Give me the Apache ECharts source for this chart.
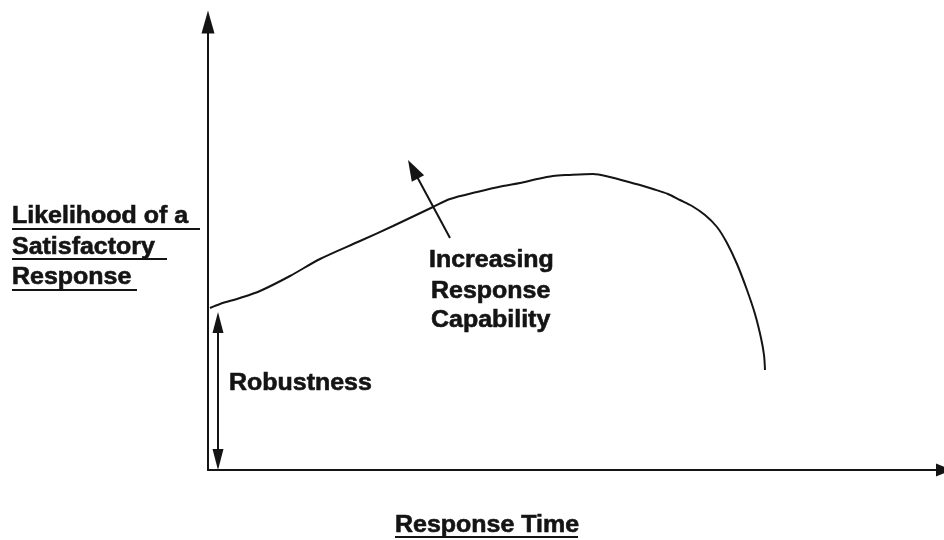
<!DOCTYPE html>
<html>
<head>
<meta charset="utf-8">
<script src="https://cdn.jsdelivr.net/npm/echarts@6/dist/echarts.min.js"></script>
<style>html,body{margin:0;padding:0;background:#fff;}#c{width:944px;height:540px;}</style>
</head>
<body>
<div id="c"></div>
<script>
// Curve: response time (x) vs likelihood of satisfactory response (y), arbitrary units
const curveX = [2, 12, 32, 52, 82, 112, 152, 185, 225, 242, 269, 295, 312, 329, 345, 360, 385, 402, 417, 432, 445, 460, 472, 484, 497, 509, 519, 529, 539, 547, 553, 556, 557];
const curveY = [162, 166, 172, 179, 194, 211, 229, 244, 263, 271, 278, 284, 287, 291, 294, 295, 296, 293, 289, 285, 281, 276, 270, 264, 255, 243, 227, 206, 180, 156, 132, 115, 100];
const xRange = [0, 736];
const yRange = [0, 448];
// Annotation arrows (data units)
const robustArrow = [[10, 147.5], [10, 10.5]];
const capArrow = [[242, 232], [205, 300.8]];
const yLabelLines = ['Likelihood of a', 'Satisfactory', 'Response'];
const xLabel = 'Response Time';
const capLabelLines = ['Increasing', 'Response', 'Capability'];
const robustLabel = 'Robustness';

const ink = '#141414';
const curveData = curveX.map((x, i) => [x, curveY[i]]);
const font = 'Liberation Sans, Arial, Helvetica, sans-serif';

function txt(text, x, y) {
  return { type: 'text', x: x, y: y, scaleX: 1.04, style: { text: text, fill: ink, stroke: ink, lineWidth: 0.6, font: 'bold 24px ' + font, textAlign: 'left', textVerticalAlign: 'middle' } };
}
function uline(x1, x2, y) {
  return { type: 'line', shape: { x1: x1, y1: y, x2: x2, y2: y }, style: { stroke: ink, lineWidth: 2 } };
}

const chart = echarts.init(document.getElementById('c'), null, { renderer: 'canvas' });
chart.setOption({
  animation: false,
  backgroundColor: '#fff',
  grid: { left: 208, right: 0, top: 22, bottom: 70 },
  xAxis: {
    type: 'value', min: xRange[0], max: xRange[1],
    axisLine: { show: true, onZero: false, symbol: ['none', 'triangle'], symbolSize: [13, 16], lineStyle: { color: ink, width: 2 } },
    axisTick: { show: false }, axisLabel: { show: false }, splitLine: { show: false }
  },
  yAxis: {
    type: 'value', min: yRange[0], max: yRange[1],
    axisLine: { show: true, onZero: false, symbol: ['none', 'triangle'], symbolSize: [13, 23], lineStyle: { color: ink, width: 2 } },
    axisTick: { show: false }, axisLabel: { show: false }, splitLine: { show: false }
  },
  series: [{
    type: 'line',
    data: curveData,
    smooth: 0.3,
    showSymbol: false,
    symbol: 'none',
    lineStyle: { color: ink, width: 2 },
    markLine: {
      silent: true,
      label: { show: false },
      lineStyle: { color: ink, width: 2, type: 'solid' },
      symbol: ['triangle', 'triangle'],
      data: [
        [
          { coord: robustArrow[0], symbol: 'triangle', symbolSize: [11, 21] },
          { coord: robustArrow[1], symbol: 'triangle', symbolSize: [11, 21] }
        ],
        [
          { coord: capArrow[0], symbol: 'none' },
          { coord: capArrow[1], symbol: 'triangle', symbolSize: [14, 21] }
        ]
      ]
    }
  }],
  graphic: [
    txt(yLabelLines[0], 12, 216),
    txt(yLabelLines[1], 12, 247),
    txt(yLabelLines[2], 12, 277),
    uline(12, 200, 229),
    uline(12, 167, 259),
    uline(12, 137, 290),
    txt(xLabel, 395, 525),
    uline(395, 578, 537),
    txt(capLabelLines[0], 429, 260),
    txt(capLabelLines[1], 431, 291),
    txt(capLabelLines[2], 431, 320),
    txt(robustLabel, 229, 383)
  ]
});
</script>
</body>
</html>
